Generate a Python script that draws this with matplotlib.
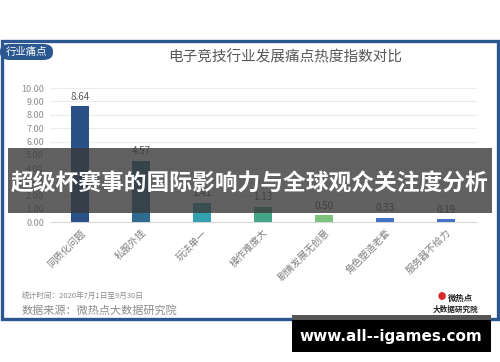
import matplotlib.pyplot as plt
from matplotlib.patches import Rectangle, FancyBboxPatch

plt.rcParams['font.family'] = ['Noto Sans CJK SC', 'DejaVu Sans']

categories = ["同质化问题", "私服外挂", "玩法单一", "操作难度大", "剧情发展无创意", "角色塑造老套", "服务器不给力"]
values = [8.64, 4.57, 1.41, 1.13, 0.50, 0.33, 0.19]
colors = ["#2a5088", "#2e6b8e", "#35a0b0", "#44a487", "#7cc47c", "#4472c4", "#4472c4"]
yticks = [0, 1, 2, 3, 4, 5, 6, 7, 8, 9, 10]

W, H = 500, 362
fig = plt.figure(figsize=(5, 3.62), dpi=100)
fig.patch.set_facecolor("white")

def fx(px):
    return px / W

def fy(py):
    return 1 - py / H

# outer blue frame
fig.patches.append(Rectangle((fx(1.5), fy(319)), fx(496), 278 / H, transform=fig.transFigure,
                             fill=False, edgecolor="#2b5790", linewidth=2.4, zorder=1))
# tag in top-left corner
fig.patches.append(FancyBboxPatch((fx(0), fy(60)), fx(53), 16 / H, transform=fig.transFigure,
                                  boxstyle="round,pad=0,rounding_size=0.02", facecolor="#2b5790",
                                  edgecolor="none", zorder=2))
fig.text(fx(6), fy(52), "行业痛点", color="white", fontsize=7.5, va="center", ha="left", zorder=3)

fig.text(fx(285), fy(57), "电子竞技行业发展痛点热度指数对比", color="#595959", fontsize=10.5,
         ha="center", va="center")

ax = fig.add_axes([fx(49.5), fy(222), 427 / W, 134 / H])
x = list(range(len(categories)))
ax.bar(x, values, width=0.3, color=colors, zorder=3)
for xi, v in zip(x, values):
    ax.text(xi, v + 0.35, f"{v:.2f}", ha="center", va="bottom", fontsize=7, color="#595959")
ax.set_xlim(-0.5, len(categories) - 0.5)
ax.set_ylim(0, 10)
ax.set_yticks(yticks)
ax.set_yticklabels([f"{t:.2f}" for t in yticks], fontsize=6.5, color="#8c8c8c")
ax.set_xticks(x)
ax.set_xticklabels(categories, rotation=45, ha="right", rotation_mode="anchor",
                   fontsize=7, color="#7f7f7f")
ax.tick_params(length=0, pad=4)
ax.grid(axis="y", color="#ececec", linewidth=0.8, zorder=0)
for s in ["top", "right", "left"]:
    ax.spines[s].set_visible(False)
ax.spines["bottom"].set_color("#d9d9d9")

# footer
fig.text(fx(22), fy(297), "统计时间：2020年7月1日至9月30日", fontsize=5.5, color="#8c8c8c", va="center")
fig.text(fx(22), fy(310), "数据来源：微热点大数据研究院", fontsize=8, color="#8c8c8c", va="center")
fig.text(fx(460), fy(298), "微热点", fontsize=6, color="#222222", weight="bold", ha="center", va="center")
fig.text(fx(456), fy(309), "大数据研究院", fontsize=5.5, color="#222222", weight="bold", ha="center", va="center")
fig.text(fx(442), fy(296), "●", fontsize=6, color="#d8262b", ha="center", va="center")

# overlay banner
fig.patches.append(Rectangle((fx(8), fy(213)), fx(484), 65 / H, transform=fig.transFigure,
                             facecolor="#3a3a3a", alpha=0.8, edgecolor="none", zorder=10))
fig.text(fx(250), fy(184), "超级杯赛事的国际影响力与全球观众关注度分析", fontsize=16.4, color="white",
         weight="bold", ha="center", va="center", zorder=11)

# watermark
fig.patches.append(Rectangle((fx(292), fy(352)), fx(199), 37 / H, transform=fig.transFigure,
                             facecolor="black", edgecolor="none", zorder=10))
fig.patches.append(Rectangle((fx(292), fy(320)), fx(199), 5 / H, transform=fig.transFigure,
                             facecolor="#555555", edgecolor="none", zorder=11))
fig.text(fx(391), fy(336), "www.all--igames.com", fontsize=11, color="white", weight="bold",
         ha="center", va="center", family="DejaVu Sans", zorder=12)

fig.savefig("out.png", dpi=100)
